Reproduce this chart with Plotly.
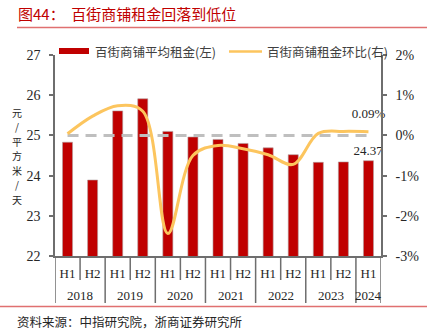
import plotly.graph_objects as go

# ---- data ----
years = ["2018", "2018", "2019", "2019", "2020", "2020", "2021", "2021",
         "2022", "2022", "2023", "2023", "2024"]
halves = ["H1", "H2", "H1", "H2", "H1", "H2", "H1", "H2",
          "H1", "H2", "H1", "H2", "H1"]
rent = [24.83, 23.89, 25.61, 25.91, 25.10, 24.96, 24.90, 24.80,
        24.69, 24.52, 24.33, 24.34, 24.37]          # 元/平方米/天
rent_qoq = [0.04, 0.48, 0.74, 0.60, -2.44, -0.50, -0.25, -0.33,
            -0.48, -0.72, 0.05, 0.10, 0.09]          # %
zero_ref = [0] * len(years)

left_ticks = [22, 23, 24, 25, 26, 27]
right_ticks = [-3, -2, -1, 0, 1, 2]

title_text = "图44：  百街商铺租金回落到低位"
source_text = "资料来源：中指研究院，浙商证券研究所"
bar_name = "百街商铺平均租金(左)"
line_name = "百街商铺租金环比(右)"
unit_text = "元/平方米/天"

# ---- page geometry (pixels) ----
W, H = 431, 335
L, R, T, B = 55, 381, 55, 256


def px(x):
    return (x - L) / (R - L)


def py(y):
    return (B - y) / (B - T)


RED = "#C00000"
ORANGE = "#FCC55E"
GREY = "#BFBFBF"
AXIS = "#6E6E6E"
INK = "#262626"
CJK = "Noto Sans CJK SC"
SERIF = "Liberation Serif"

cats = [y + h for y, h in zip(years, halves)]
last = len(cats) - 1

fig = go.Figure()

fig.add_trace(go.Bar(
    x=cats, y=rent, name=bar_name, marker_color=RED,
    marker_line=dict(color="#B0A0A0", width=0.6),
    text=["" if i < last else f"{v:.2f}" for i, v in enumerate(rent)],
    textposition="outside", constraintext="none",
    textfont=dict(family=SERIF, size=13, color=INK),
    cliponaxis=False, yaxis="y",
))

fig.add_trace(go.Scatter(
    x=cats, y=zero_ref, mode="lines", yaxis="y2", showlegend=False,
    line=dict(color=GREY, width=3, dash="11px,7px"), hoverinfo="skip",
))

# invisible marker on the labelled point only, to lift its text clear of the line
fig.add_trace(go.Scatter(
    x=cats, y=rent_qoq, name=line_name, yaxis="y2",
    mode="lines+markers+text",
    line=dict(color=ORANGE, width=3, shape="spline", smoothing=1.0),
    marker=dict(size=[0] * last + [16], opacity=0),
    text=["" if i < last else f"{v:.2f}%" for i, v in enumerate(rent_qoq)],
    textposition="top center",
    textfont=dict(family=SERIF, size=13, color=INK),
    cliponaxis=False,
))

fig.update_layout(
    width=W, height=H,
    margin=dict(l=L, r=W - R, t=T, b=H - B, pad=0),
    paper_bgcolor="white", plot_bgcolor="white",
    showlegend=False, bargap=0.6,
    font=dict(family=SERIF, size=13, color=INK),
    xaxis=dict(
        type="category", showline=True, linecolor=AXIS, linewidth=1.5,
        tickmode="array", tickvals=cats, ticktext=halves, ticks="",
        tickangle=0, ticklabelstandoff=5,
        tickfont=dict(family=SERIF, size=13, color=INK),
        showgrid=False, zeroline=False, range=[-0.5, last + 0.5],
    ),
    yaxis=dict(
        range=[22, 27], tickvals=left_ticks, ticktext=[str(v) for v in left_ticks],
        showline=True, linecolor=AXIS, linewidth=1.5,
        ticks="outside", ticklen=4, tickcolor=AXIS, tickwidth=1.5,
        showgrid=False, zeroline=False, ticklabelstandoff=6,
        tickfont=dict(family=SERIF, size=14, color=INK),
    ),
    yaxis2=dict(
        range=[-3, 2], overlaying="y", side="right",
        tickvals=right_ticks, ticktext=[f"{v}%" for v in right_ticks],
        showline=True, linecolor=AXIS, linewidth=1.5,
        ticks="outside", ticklen=4, tickcolor=AXIS, tickwidth=1.5,
        showgrid=False, zeroline=False, ticklabelstandoff=6,
        tickfont=dict(family=SERIF, size=14, color=INK),
    ),
)

shapes = [
    # rules under the title and above the source note
    dict(type="line", xref="paper", yref="paper", x0=px(17), x1=px(427),
         y0=py(27.5), y1=py(27.5), line=dict(color="#E07070", width=1.5)),
    dict(type="line", xref="paper", yref="paper", x0=px(0), x1=px(427),
         y0=py(306.5), y1=py(306.5), line=dict(color="#E07070", width=1.5)),
    # legend keys
    dict(type="rect", xref="paper", yref="paper", x0=px(59), x1=px(89),
         y0=py(54), y1=py(48), fillcolor=RED, line=dict(width=0)),
    dict(type="line", xref="paper", yref="paper", x0=px(229), x1=px(262),
         y0=py(51.5), y1=py(51.5), line=dict(color=ORANGE, width=2.5)),
]

annotations = [
    dict(text=title_text, xref="paper", yref="paper", x=px(16), y=py(14),
         xanchor="left", yanchor="middle", showarrow=False,
         font=dict(family=CJK, size=15, color=RED)),
    dict(text=source_text, xref="paper", yref="paper", x=px(15), y=py(321),
         xanchor="left", yanchor="middle", showarrow=False,
         font=dict(family=CJK, size=12.5, color=INK)),
    dict(text=bar_name, xref="paper", yref="paper", x=px(93), y=py(51),
         xanchor="left", yanchor="middle", showarrow=False,
         font=dict(family=CJK, size=12.5, color="#404040")),
    dict(text=line_name, xref="paper", yref="paper", x=px(265), y=py(51),
         xanchor="left", yanchor="middle", showarrow=False,
         font=dict(family=CJK, size=12.5, color="#404040")),
]

# two-level category axis: short separators between halves,
# long separators and a centred label for each year
group_edges = [0] + [i for i in range(1, len(years)) if years[i] != years[i - 1]] + [len(years)]
for i in range(1, len(cats)):
    if i not in group_edges:
        shapes.append(dict(type="line", xref="x", yref="paper", x0=i - 0.5, x1=i - 0.5,
                           y0=0, y1=py(280), line=dict(color=AXIS, width=1.5)))
for i in group_edges:
    shapes.append(dict(type="line", xref="x", yref="paper", x0=i - 0.5, x1=i - 0.5,
                       y0=0, y1=py(303), line=dict(color=AXIS, width=1.5)))
for a, b in zip(group_edges[:-1], group_edges[1:]):
    annotations.append(dict(text=years[a], xref="x", yref="paper", x=(a + b - 1) / 2,
                            y=py(295), xanchor="center", yanchor="middle",
                            showarrow=False, font=dict(family=SERIF, size=13, color=INK)))

# vertical unit label, one upright glyph per row
for k, ch in enumerate(unit_text):
    annotations.append(dict(text=ch, xref="paper", yref="paper", x=px(17),
                            y=py(112 + 14.5 * k), xanchor="center", yanchor="middle",
                            showarrow=False, font=dict(family=CJK, size=10, color=INK)))

fig.update_layout(shapes=shapes, annotations=annotations)

fig.write_html("out.html")
